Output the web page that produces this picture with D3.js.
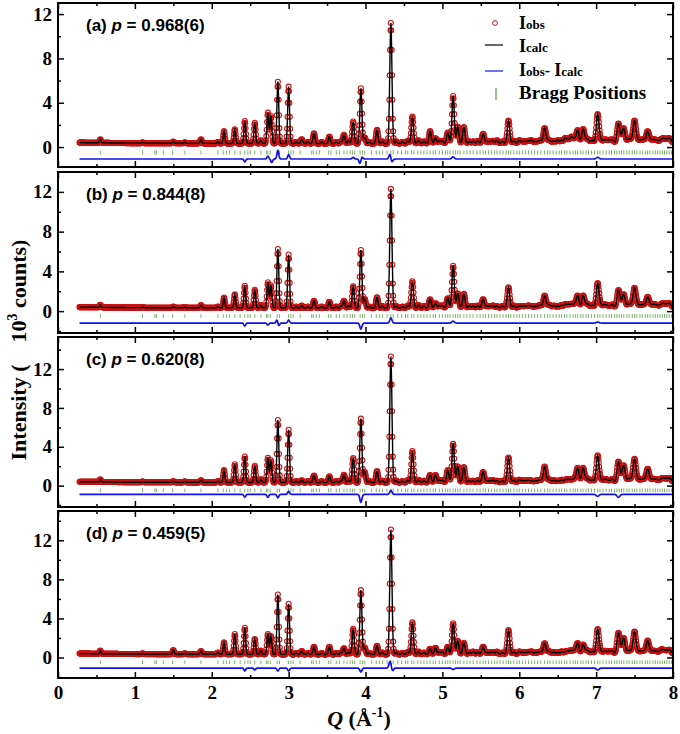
<!DOCTYPE html>
<html><head><meta charset="utf-8">
<script src="https://cdn.jsdelivr.net/npm/d3@7"></script>
<style>body{margin:0;background:#fff}</style>
</head><body><svg id="c" width="680" height="734"></svg>
<script>
// ---------------- DATA ----------------
const panelLetters = ["(a)", "(b)", "(c)", "(d)"];
const pValues = ["0.968(6)", "0.844(8)", "0.620(8)", "0.459(5)"];

// main reflection positions, Q in 1/Å
const peakQ = [0.55,1.10,1.50,1.65,1.86,2.08,2.16,2.30,2.43,2.56,
               2.64,2.73,2.77,2.86,3.00,3.17,3.33,3.43,3.53,3.62,
               3.72,3.84,3.94,3.99,4.15,4.33,4.48,4.61,4.69,4.76,
               4.84,4.91,5.00,5.07,5.14,5.20,5.28,5.40,5.53,5.62,
               5.71,5.78,5.86,6.00,6.08,6.16,6.25,6.33,6.40,6.50,
               6.60,6.68,6.76,6.83,6.90,7.02,7.10,7.17,7.29,7.36,
               7.42,7.50,7.58,7.67,7.75,7.84,7.90,7.96];
// peak-top intensities (10^3 counts)
const heightsA = [.70,.42,.50,.42,.70,.45,1.45,1.60,2.35,2.20,
                  .60,3.10,2.80,5.90,5.45,.70,1.25,.45,.95,.45,
                  1.10,2.30,5.30,.85,1.55,11.2,.45,2.75,.60,.50,
                  1.45,.80,.55,1.30,4.60,1.85,1.80,.50,1.20,.50,
                  .60,.50,2.40,.60,.50,.60,.50,1.70,.55,.60,
                  .80,.90,1.50,1.60,.60,2.95,.55,.60,2.10,1.60,
                  .70,2.35,.60,1.40,.65,.60,.60,.70];
const heightsB = [.65,.42,.45,.42,.60,.45,1.37,1.70,2.55,2.15,
                  .60,2.90,2.60,6.25,5.70,.55,1.05,.45,.95,.45,
                  1.05,2.50,6.15,1.20,1.40,12.3,.45,3.00,.60,.50,
                  1.20,.80,.55,1.30,4.57,1.80,1.75,.50,1.20,.50,
                  .50,.50,2.40,.50,.50,.50,.50,1.55,.55,.50,
                  .70,.70,1.55,1.55,.60,2.80,.55,.50,2.10,1.60,
                  .70,2.30,.60,1.40,.65,.60,.60,.70];
const heightsC = [.65,.42,.45,.42,.55,.45,1.60,2.20,3.00,2.05,
                  .65,2.85,2.60,6.75,5.75,.55,1.05,.45,.95,.45,
                  1.10,2.85,6.90,1.40,1.50,13.3,.45,3.55,.60,.50,
                  1.10,1.10,.55,1.60,4.30,2.00,1.90,.50,1.40,.50,
                  .50,.50,2.90,.60,.50,.50,.50,1.95,.55,.50,
                  .60,.60,1.80,1.80,.60,3.10,.55,.50,2.45,2.00,
                  .70,2.70,.60,1.70,.65,.60,.60,.70];
const heightsD = [.70,.42,.75,.42,.65,.50,1.55,2.40,3.05,1.90,
                  .70,2.40,2.20,6.45,5.50,.65,1.10,.45,1.10,.45,
                  .95,2.95,6.90,1.00,1.20,13.1,.45,3.60,.60,.50,
                  .90,1.00,.55,1.10,3.50,1.70,1.50,.60,1.10,.50,
                  .60,.50,2.80,.60,.50,.60,.50,1.45,.55,.50,
                  .60,.70,1.45,1.30,.60,2.90,.55,.60,2.50,1.90,
                  .70,2.60,.60,1.70,.65,.70,.60,.70];

// weak reflections common to all panels
const weakQ = [3.10,3.25,3.68,3.78,4.05,4.22,4.40,4.55,4.96,5.35,5.46,5.58,5.66,5.93,6.04,6.12,6.21,6.28,
               6.37,6.45,6.55,6.64,6.72,6.87,6.95,7.06,7.13,7.21,7.33,7.46,7.54,7.62,7.71,7.79,7.87,7.93];
const weakH = [.45,.45,.50,.55,.45,.50,.50,.55,.55,.50,.55,.50,.55,.55,.50,.55,.50,.55,
               .55,.55,.60,.65,.70,.65,.60,.60,.60,.65,.70,.65,.60,.65,.60,.60,.65,.60];

// background level
const bgQ = [0.28, 1, 2, 4, 6, 8];
const bgLevel = [0.40, 0.35, 0.33, 0.30, 0.33, 0.38];

// measured range
const qStart = 0.28, qEnd = 8.0, qStep = 0.005;

// difference curve: offset and features [Q, amplitude]
const diffOffset = [-1.08, -1.2, -0.9, -1.08];
const diffA = [[2.43,-0.25],[2.73,0.25],[2.78,-0.3],[2.86,0.75],[3.00,0.4],[3.84,0.15],[3.93,-0.45],[3.95,0.25],[4.32,0.5],[4.34,-0.35],[5.14,0.2],[7.02,0.15]];
const diffB = [[2.43,-0.3],[2.73,-0.2],[2.85,0.35],[2.87,-0.3],[3.00,0.3],[3.94,-0.6],[4.33,0.5],[5.14,0.2],[7.02,0.1]];
const diffC = [[2.43,-0.3],[2.73,-0.3],[2.86,-0.35],[3.00,0.3],[3.94,-0.8],[4.33,0.4],[7.02,-0.2],[7.29,-0.3]];
const diffD = [[2.43,-0.3],[2.56,-0.2],[2.86,-0.3],[3.00,-0.3],[3.94,-0.4],[4.32,0.7],[4.35,-0.3],[5.14,-0.15],[7.02,-0.2]];

// Bragg tick positions
const braggQ = [0.55,1.10,1.26,1.28,1.37,1.49,1.65,1.86,2.08,2.15,2.19,2.23,2.30,2.37,2.43,2.47,2.50,2.56,2.64,2.71,
  2.73,2.76,2.85,2.88,3.00,3.03,3.06,3.15,3.30,3.32,3.36,3.40,3.52,3.55,3.62,3.66,3.72,3.76,3.80,3.83,
  3.86,3.93,3.96,3.99,4.08,4.14,4.18,4.22,4.28,4.33,4.36,4.42,4.47,4.52,4.55,4.60,4.63,4.68,4.72,4.76,
  4.80,4.84,4.88,4.91,4.96,5.00,5.04,5.07,5.10,5.14,5.17,5.20,5.23,5.28,5.32,5.36,5.40,5.45,5.49,5.53,
  5.56,5.60,5.64,5.68,5.71,5.75,5.79,5.83,5.86,5.89,5.93,5.97,6.00,6.04,6.08,6.12,6.16,6.20,6.24,6.28,
  6.33,6.37,6.40,6.44,6.48,6.52,6.55,6.59,6.62,6.66,6.70,6.73,6.76,6.80,6.83,6.87,6.90,6.94,6.98,7.02,
  7.05,7.09,7.13,7.17,7.20,7.24,7.27,7.30,7.33,7.36,7.40,7.43,7.47,7.50,7.53,7.57,7.60,7.64,7.67,7.70,
  7.74,7.77,7.80,7.83,7.86,7.89,7.92,7.95,7.98];

const xTicks = [0,1,2,3,4,5,6,7,8];
const yTicks = [0,4,8,12];

// ---------------- LAYOUT ----------------
const heightsAll = [heightsA, heightsB, heightsC, heightsD];
const diffAll = [diffA, diffB, diffC, diffD];
const yDomains = [[-1.8,13.0],[-2.2,14.0],[-2.2,15.3],[-2.1,15.0]];
const panelTops = [3,172,337,511], panelBottoms = [167,333,507,678];
const xLeft = 58, xRight = 673;
const serif = "'Liberation Serif','Times New Roman',serif";
const sans = "'Liberation Sans',Arial,sans-serif";

const svg = d3.select("#c");
const x = d3.scaleLinear().domain([0,8]).range([xLeft,xRight]);
const bg = d3.scaleLinear().domain(bgQ).range(bgLevel);
const sig = Q => 0.008 + 0.0014*Q;
const nPts = Math.round((qEnd-qStart)/qStep);
const grid = d3.range(0, nPts+1).map(n => +(qStart + n*qStep).toFixed(4));
const xMinor = xTicks.slice(0,-1).map(v => v+0.5);

heightsAll.forEach((hs, i) => {
  const top = panelTops[i], bot = panelBottoms[i];
  const y = d3.scaleLinear().domain(yDomains[i]).range([bot, top]);
  const g = svg.append("g");
  const clipId = "clip"+i;
  svg.append("clipPath").attr("id", clipId).append("rect")
    .attr("x", xLeft).attr("y", top).attr("width", xRight-xLeft).attr("height", bot-top);
  const plot = g.append("g").attr("clip-path", `url(#${clipId})`);

  const allQ = peakQ.concat(weakQ), allH = hs.concat(weakH);
  const prof = grid.map(q => {
    let v = bg(q);
    allQ.forEach((Q,k) => {
      const d = (q-Q)/sig(Q);
      if (Math.abs(d) < 7) v += (allH[k]-bg(Q))*Math.exp(-0.5*d*d);
    });
    return [q, v];
  });
  const diff = grid.map(q => {
    let v = diffOffset[i];
    diffAll[i].forEach(([Q,a]) => {
      const d = (q-Q)/sig(Q);
      if (Math.abs(d) < 7) v += a*Math.exp(-0.5*d*d);
    });
    return [q, v];
  });

  plot.append("g").selectAll("line").data(braggQ).join("line")
    .attr("x1", d => x(d)).attr("x2", d => x(d))
    .attr("y1", y(-0.3)).attr("y2", y(-0.68))
    .attr("stroke", "#79b46a").attr("stroke-width", 1);

  plot.append("g").selectAll("circle").data(prof).join("circle")
    .attr("cx", d => x(d[0])).attr("cy", d => y(d[1])).attr("r", 2.5)
    .attr("fill", "none").attr("stroke", "#c81414").attr("stroke-width", 1.1);

  const line = d3.line().x(d => x(d[0])).y(d => y(d[1]));
  plot.append("path").attr("d", line(prof)).attr("fill","none")
    .attr("stroke","#000").attr("stroke-width",1.4);
  plot.append("path").attr("d", line(diff)).attr("fill","none")
    .attr("stroke","#1010ee").attr("stroke-width",1.7);

  const styleAx = sel => { sel.select(".domain").remove(); sel.selectAll("line").attr("stroke","#000").attr("stroke-width",1.5); };
  const yMinor = d3.range(Math.ceil(yDomains[i][0]/2)*2, yDomains[i][1], 2).filter(v => v % 4 !== 0);
  g.append("g").attr("transform",`translate(0,${bot})`)
    .call(d3.axisBottom(x).tickValues(xTicks).tickSize(-6).tickPadding(8).tickFormat(i===3 ? d3.format("d") : ""))
    .call(styleAx);
  g.append("g").attr("transform",`translate(0,${bot})`)
    .call(d3.axisBottom(x).tickValues(xMinor).tickSize(-3).tickFormat("")).call(styleAx);
  g.append("g").attr("transform",`translate(0,${top})`)
    .call(d3.axisTop(x).tickValues(xTicks).tickSize(-6).tickFormat("")).call(styleAx);
  g.append("g").attr("transform",`translate(0,${top})`)
    .call(d3.axisTop(x).tickValues(xMinor).tickSize(-3).tickFormat("")).call(styleAx);
  g.append("g").attr("transform",`translate(${xLeft},0)`)
    .call(d3.axisLeft(y).tickValues(yTicks).tickSize(-6).tickPadding(6).tickFormat(d3.format("d")))
    .call(styleAx);
  g.append("g").attr("transform",`translate(${xLeft},0)`)
    .call(d3.axisLeft(y).tickValues(yMinor).tickSize(-3).tickFormat("")).call(styleAx);
  g.append("g").attr("transform",`translate(${xRight},0)`)
    .call(d3.axisRight(y).tickValues(yTicks).tickSize(-6).tickFormat("")).call(styleAx);
  g.append("g").attr("transform",`translate(${xRight},0)`)
    .call(d3.axisRight(y).tickValues(yMinor).tickSize(-3).tickFormat("")).call(styleAx);
  g.selectAll(".tick text").attr("font-family", serif).attr("font-weight","bold")
    .attr("font-size", 19).attr("fill","#000");

  g.append("rect").attr("x", xLeft).attr("y", top).attr("width", xRight-xLeft).attr("height", bot-top)
    .attr("fill","none").attr("stroke","#000").attr("stroke-width",2);

  const lab = g.append("text").attr("x", 86).attr("y", top+28)
    .attr("font-family", sans).attr("font-weight","bold").attr("font-size",17);
  lab.append("tspan").text(panelLetters[i] + " ");
  lab.append("tspan").attr("font-style","italic").text("p");
  lab.append("tspan").text(" = " + pValues[i]);
});

// Legend (panel a)
const lg = svg.append("g");
lg.append("circle").attr("cx",495).attr("cy",23).attr("r",2.4).attr("fill","none").attr("stroke","#c81414").attr("stroke-width",1);
lg.append("line").attr("x1",485).attr("x2",503).attr("y1",45).attr("y2",45).attr("stroke","#000").attr("stroke-width",1.2);
lg.append("line").attr("x1",485).attr("x2",503).attr("y1",71).attr("y2",71).attr("stroke","#1010ee").attr("stroke-width",1.2);
lg.append("line").attr("x1",496).attr("x2",496).attr("y1",88).attr("y2",100).attr("stroke","#5fa24c").attr("stroke-width",1.3);
function legText(yb, parts) {
  const t = lg.append("text").attr("x",519).attr("y",yb).attr("font-family",serif).attr("font-weight","bold");
  parts.forEach(([s,fs]) => t.append("tspan").attr("font-size",fs).text(s));
}
legText(29, [["I",18],["obs",13]]);
legText(52, [["I",18],["calc",13]]);
legText(76, [["I",18],["obs",13],["- ",16],["I",18],["calc",13]]);
legText(99, [["Bragg Positions",19]]);

// Axis titles
const yt = svg.append("text").attr("transform","translate(26,350) rotate(-90)")
  .attr("text-anchor","middle").attr("font-family",serif).attr("font-weight","bold").attr("font-size",22);
yt.append("tspan").text("Intensity (");
yt.append("tspan").attr("dx",22).text("10");
yt.append("tspan").attr("font-size",14).attr("dy",-9).text("3");
yt.append("tspan").attr("dy",9).text(" counts)");

const xt = svg.append("text").attr("x",359).attr("y",726).attr("text-anchor","middle")
  .attr("font-family",serif).attr("font-weight","bold").attr("font-size",22);
xt.append("tspan").attr("font-style","italic").text("Q");
xt.append("tspan").text(" (Å");
xt.append("tspan").attr("font-size",14).attr("dy",-9).text("-1");
xt.append("tspan").attr("dy",9).text(")");
</script></body></html>
